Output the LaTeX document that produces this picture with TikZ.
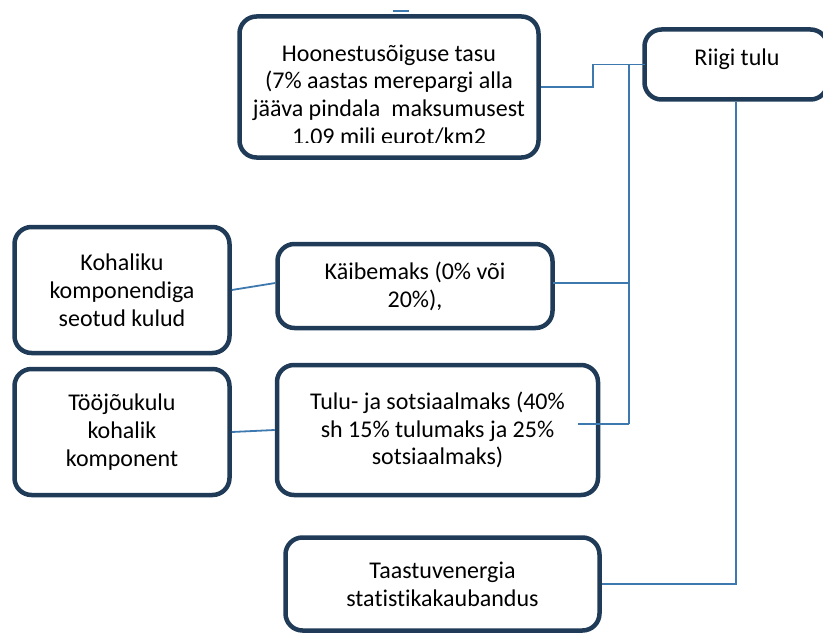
\documentclass[tikz,border=0pt]{standalone}
\usepackage{fontspec}
\setmainfont{Carlito}[Ligatures=NoCommon]
\usetikzlibrary{calc}
\definecolor{boxline}{HTML}{1F3B57}
\definecolor{conn}{HTML}{3D79AF}
\tikzset{
  box/.style={draw=boxline, line width=4.5pt, rounded corners=17pt, fill=white, rectangle, inner sep=0pt},
  txt/.style={align=center, font=\fontsize{24}{27.8}\selectfont, text=black, inner sep=0pt},
  link/.style={draw=conn, line width=1.8pt}
}
\begin{document}
\begin{tikzpicture}[x=1pt,y=-1pt]
\useasboundingbox (0,0) rectangle (823,634);
\clip (0,0) rectangle (823,634);
\coordinate (stubA) at (393,11);
\coordinate (stubB) at (409,11);
\draw[link] (stubA) -- (stubB);
% boxes
\node[box, minimum width=299pt, minimum height=141pt] (H) at (389,87) {};
\begin{scope}
\clip (241,18) rectangle (537,142);
\node[txt] (Ht) at (389,95) {Hoonestusõiguse tasu\\(7\% aastas merepargi alla\\jääva pindala\ \ maksumusest\\1.09 mili eurot/km2};
\end{scope}
\node[box, minimum width=183pt, minimum height=70pt] (R) at (736,64.5) {};
\node[txt] (Rt) at (737,59) {Riigi tulu};
\node[box, minimum width=275pt, minimum height=84pt, txt] (K) at (415,286) {};
\node[txt] (Kt) at (415,286) {Käibemaks (0\% või\\20\%),};
\node[box, minimum width=321pt, minimum height=130pt, txt] (T) at (437.5,430) {Tulu- ja sotsiaalmaks (40\%\\sh 15\% tulumaks ja 25\%\\sotsiaalmaks)};
\node[box, minimum width=314pt, minimum height=93pt] (S) at (442.5,584) {};
\node[txt] (St) at (442.5,584) {Taastuvenergia\\stat\kern0pt ist\kern0pt ikakaubandus};
\node[box, minimum width=215pt, minimum height=126pt, txt] (KK) at (122,290) {Kohaliku\\komponendiga\\seotud kulud};
\node[box, minimum width=215pt, minimum height=126pt, txt] (TK) at (122,432) {Tööjõukulu\\kohalik\\komponent};
% connectors
\coordinate (bustop) at (629,64.5);
\coordinate (busbot) at (629,424);
\coordinate (tstart) at (578,424);
\coordinate (keast) at (552.5,283);
\draw[link] (H.east) -- ++(52.5,0) |- ($(R.west)+(3,0)$);
\draw[link] (bustop) -- (busbot);
\draw[link] (keast) -- (keast -| bustop);
\draw[link] (tstart) -- (busbot);
\draw[link] (R.south) |- (S.east);
\draw[link] (KK.east) -- (K.west |- keast);
\draw[link] (TK.east) -- (T.west);
\end{tikzpicture}
\end{document}
